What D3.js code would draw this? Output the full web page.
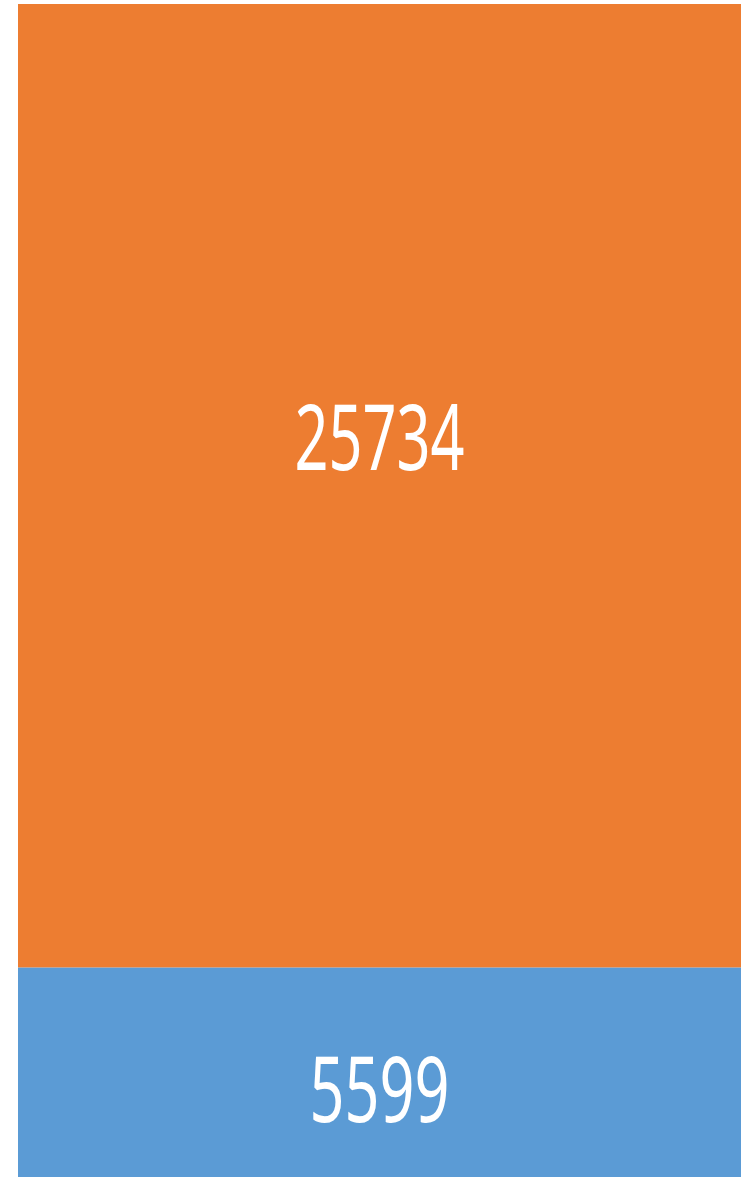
<!DOCTYPE html>
<html>
<head>
<meta charset="utf-8">
<script src="https://cdn.jsdelivr.net/npm/d3@7"></script>
<style>
    body { margin: 0; background: #fff; }
    svg { display: block; }
</style>
</head>
<body>
<div id="chart"></div>
<script>
// stacked column, bottom segment first
const categories = ["Series 1"];
const seriesNames = ["blue", "orange"];
const blueValues = [5599];
const orangeValues = [25734];

const colors = { blue: "#5B9BD5", orange: "#ED7D31" };

const width = 754, height = 1177;
const margin = { top: 4, right: 13, bottom: 0, left: 18 };

const svg = d3.select("#chart").append("svg")
    .attr("width", width)
    .attr("height", height);

const g = svg.append("g")
    .attr("transform", "translate(" + margin.left + "," + margin.top + ")");

const innerW = width - margin.left - margin.right;
const innerH = height - margin.top - margin.bottom;

const rows = categories.map((c, i) => ({ cat: c, blue: blueValues[i], orange: orangeValues[i] }));
const stacked = d3.stack().keys(seriesNames)(rows);

const x = d3.scaleBand()
    .domain(categories)
    .range([0, innerW])
    .padding(0);

const y = d3.scaleLinear()
    .domain([0, d3.max(rows, d => d.blue + d.orange)])
    .range([innerH, 0]);

// label placement tweaks (baseline offset from segment middle, px)
const labelDy = { blue: 50, orange: -16 };
const labelWidth = { blue: 140, orange: 170 };

stacked.forEach(layer => {
    const key = layer.key;
    g.selectAll(".bar-" + key)
        .data(layer)
        .enter()
        .append("rect")
        .attr("class", "bar-" + key)
        .attr("x", (d, i) => x(categories[i]))
        .attr("y", d => y(d[1]))
        .attr("width", x.bandwidth())
        .attr("height", d => y(d[0]) - y(d[1]))
        .attr("fill", colors[key]);

    g.selectAll(".label-" + key)
        .data(layer)
        .enter()
        .append("text")
        .attr("class", "label-" + key)
        .attr("x", (d, i) => x(categories[i]) + x.bandwidth() / 2)
        .attr("y", d => (y(d[0]) + y(d[1])) / 2 + labelDy[key])
        .attr("text-anchor", "middle")
        .attr("fill", "#fff")
        .style("font-family", "'Noto Sans', 'Open Sans', sans-serif")
        .style("font-size", "91px")
        .attr("textLength", labelWidth[key])
        .attr("lengthAdjust", "spacingAndGlyphs")
        .text(d => d[1] - d[0]);
});
</script>
</body>
</html>
